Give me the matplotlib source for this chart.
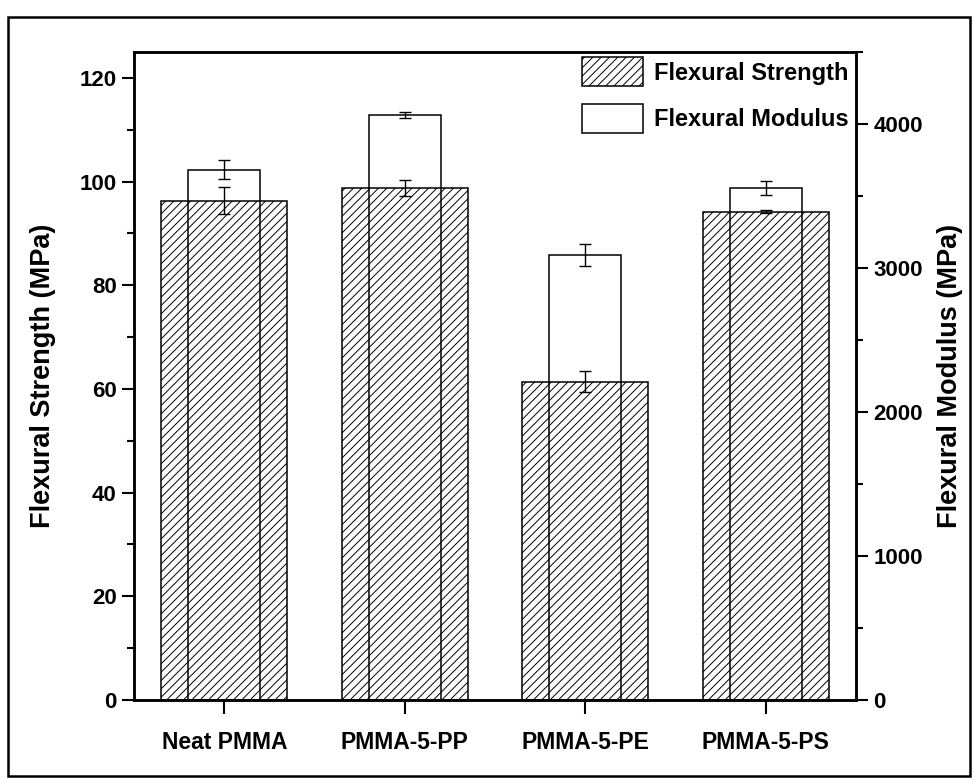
import matplotlib
matplotlib.use("Agg")
import matplotlib.pyplot as plt
from matplotlib.patches import Rectangle, Patch
from matplotlib.ticker import MultipleLocator
import numpy as np

# values
samples = ["Neat PMMA", "PMMA-5-PP", "PMMA-5-PE", "PMMA-5-PS"]
strength = [96.3, 98.8, 61.4, 94.2]
strength_err = [2.6, 1.6, 2.0, 0.25]
modulus = [3683, 4062, 3091, 3556]
modulus_err = [67, 21, 79, 49]

plt.rcParams["font.family"] = ["Liberation Sans", "DejaVu Sans"]
plt.rcParams["font.weight"] = "bold"
plt.rcParams["hatch.linewidth"] = 0.7

fig = plt.figure(figsize=(9.74, 7.81), dpi=100)
ax = fig.add_axes([134 / 974, 1 - 700 / 781, (856 - 134) / 974, (700 - 52) / 781])
ax2 = ax.twinx()

x = np.arange(1, len(samples) + 1)

ax.bar(x, strength, width=0.7, facecolor="white", edgecolor="black",
       linewidth=1.1, hatch="////", zorder=2)
ax.errorbar(x, strength, yerr=strength_err, fmt="none", ecolor="black",
            elinewidth=1.0, capsize=4.5, capthick=1.0, zorder=3)

ax2.bar(x, modulus, width=0.4, facecolor="none", edgecolor="black",
        linewidth=1.1, zorder=2)
ax2.errorbar(x, modulus, yerr=modulus_err, fmt="none", ecolor="black",
             elinewidth=1.0, capsize=4.5, capthick=1.0, zorder=3)

ax.set_xlim(0.5, 4.5)
ax.set_ylim(0, 125)
ax2.set_ylim(0, 4500)

ax.set_xticks(x)
ax.set_xticklabels(samples, fontsize=16.5, fontweight="bold")
ax.yaxis.set_major_locator(MultipleLocator(20))
ax.yaxis.set_minor_locator(MultipleLocator(10))
ax2.yaxis.set_major_locator(MultipleLocator(1000))
ax2.yaxis.set_minor_locator(MultipleLocator(500))

ax.tick_params(axis="x", direction="out", length=10, width=1.5, pad=12)
ax.tick_params(axis="y", which="major", direction="out", length=8.5, width=1.5,
               labelsize=16, pad=4)
ax.tick_params(axis="y", which="minor", direction="out", length=5, width=1.5)
ax2.tick_params(axis="y", which="major", direction="out", length=8.5, width=1.5,
                labelsize=16, pad=4)
ax2.tick_params(axis="y", which="minor", direction="out", length=5, width=1.5)

for sp in list(ax.spines.values()) + list(ax2.spines.values()):
    sp.set_linewidth(1.8)

ax.set_ylabel("Flexural Strength (MPa)", fontsize=19.5, fontweight="bold", labelpad=17)
ax2.set_ylabel("Flexural Modulus (MPa)", fontsize=19.5, fontweight="bold", labelpad=10)

handles = [Patch(facecolor="white", edgecolor="black", hatch="////", linewidth=1.1),
           Patch(facecolor="white", edgecolor="black", linewidth=1.1)]
ax2.legend(handles, ["Flexural Strength", "Flexural Modulus"], loc="upper right",
           bbox_to_anchor=(1 + 2 / 722, 1 + 4 / 648),
           frameon=False, prop={"size": 17, "weight": "bold"},
           handlelength=2.6, handleheight=1.5, handletextpad=0.45,
           labelspacing=0.75, borderaxespad=0.0)

# outer frame of the figure
fig.patches.append(Rectangle((8 / 974, 1 - 776 / 781), (970 - 8) / 974, (776 - 17) / 781,
                             transform=fig.transFigure, fill=False,
                             edgecolor="black", linewidth=1.8))

fig.savefig("out.png", dpi=100)
